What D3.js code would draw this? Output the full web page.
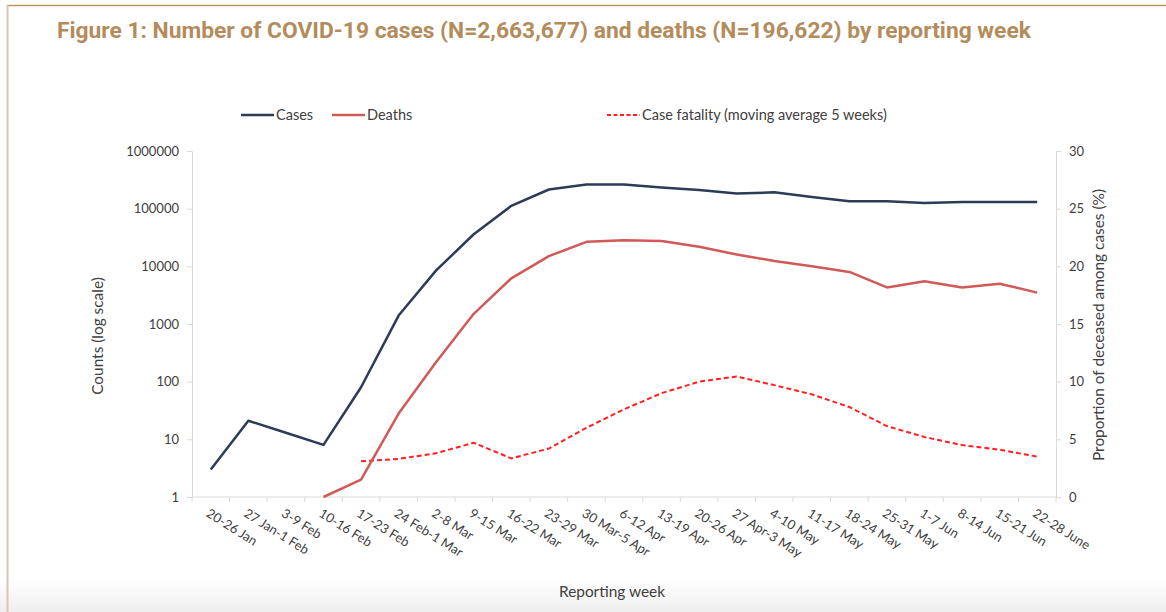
<!DOCTYPE html>
<html>
<head>
<meta charset="utf-8">
<script src="https://cdn.jsdelivr.net/npm/d3@7/dist/d3.min.js"></script>
<style>
  body { margin: 0; background: #fff; }
  svg { display: block; }
  .axis path, .axis line { stroke: #d9d9d9; }
  .axis text { fill: #404040; font-family: Lato, "Open Sans", sans-serif; font-size: 13px; }
</style>
</head>
<body>
<div id="chart"></div>
<script>
// reporting weeks
var weeks = ["20-26 Jan", "27 Jan-1 Feb", "3-9 Feb", "10-16 Feb", "17-23 Feb", "24 Feb-1 Mar",
    "2-8 Mar", "9-15 Mar", "16-22 Mar", "23-29 Mar", "30 Mar-5 Apr", "6-12 Apr", "13-19 Apr",
    "20-26 Apr", "27 Apr-3 May", "4-10 May", "11-17 May", "18-24 May", "25-31 May", "1-7 Jun",
    "8-14 Jun", "15-21 Jun", "22-28 June"];

// weekly counts (null = not plotted)
var cases = [3, 21, 13, 8, 80, 1400, 8500, 36000, 112000, 215000, 263000, 263000, 233000,
    210000, 183000, 192000, 160000, 135000, 135000, 126000, 131000, 131000, 130000];
var deaths = [null, null, null, 1, 2, 28, 220, 1500, 6200, 15000, 26600, 28400, 27600,
    21800, 16100, 12400, 10000, 8000, 4300, 5500, 4300, 5000, 3500];
// case fatality %, moving average 5 weeks
var fatality = [null, null, null, null, 3.1, 3.3, 3.8, 4.7, 3.35, 4.2, 6.0, 7.6, 9.0,
    10.0, 10.45, 9.7, 8.9, 7.8, 6.15, 5.2, 4.5, 4.1, 3.5];

var logTicks = [1, 10, 100, 1000, 10000, 100000, 1000000];
var pctTicks = [0, 5, 10, 15, 20, 25, 30];

var W = 1166, H = 612;
var margin = {top: 151, right: 110, bottom: 115, left: 192};
var width = W - margin.left - margin.right,
    height = H - margin.top - margin.bottom;

var svg = d3.select("#chart").append("svg")
    .attr("width", W)
    .attr("height", H);

// bottom grey fade + frame
var defs = svg.append("defs");
var grad = defs.append("linearGradient").attr("id", "fade")
    .attr("x1", 0).attr("y1", 0).attr("x2", 0).attr("y2", 1);
grad.append("stop").attr("offset", "0%").attr("stop-color", "#ffffff");
grad.append("stop").attr("offset", "100%").attr("stop-color", "#efefef");
svg.append("rect").attr("x", 0).attr("y", 580).attr("width", W).attr("height", 32)
    .attr("fill", "url(#fade)");

svg.append("line").attr("x1", 7).attr("x2", W).attr("y1", 5.5).attr("y2", 5.5)
    .attr("stroke", "#bb9467").attr("stroke-width", 1.5);
svg.append("line").attr("x1", 7.5).attr("x2", 7.5).attr("y1", 5).attr("y2", H)
    .attr("stroke", "#dcc6a8").attr("stroke-width", 2);

svg.append("text")
    .attr("x", 57).attr("y", 38)
    .style("font-family", "Roboto, sans-serif")
    .style("font-weight", "bold")
    .style("font-size", "22.8px")
    .style("fill", "#b48c5c")
    .text("Figure 1: Number of COVID-19 cases (N=2,663,677) and deaths (N=196,622) by reporting week");

var g = svg.append("g").attr("transform", "translate(" + margin.left + "," + margin.top + ")");

var x = d3.scaleBand().domain(weeks).range([0, width]);
var yL = d3.scaleLog().domain([1, 1000000]).range([height, 0]);
var yR = d3.scaleLinear().domain([0, 30]).range([height, 0]);

// x axis: ticks at band edges
var xAxis = g.append("g").attr("class", "axis")
    .attr("transform", "translate(0," + height + ")");
xAxis.append("line").attr("x1", 0).attr("x2", width);
xAxis.selectAll(".tk").data(weeks.concat([null])).enter().append("line")
    .attr("class", "tk")
    .attr("x1", function(d, i) { return i * x.step(); })
    .attr("x2", function(d, i) { return i * x.step(); })
    .attr("y1", 0).attr("y2", 5);
xAxis.selectAll(".lbl").data(weeks).enter().append("text")
    .attr("class", "lbl")
    .attr("transform", function(d) {
        return "translate(" + (x(d) + x.bandwidth() / 2 - 3) + ",15) rotate(32)";
    })
    .attr("dy", "0.35em")
    .style("text-anchor", "start")
    .text(function(d) { return d; });

g.append("g").attr("class", "axis")
    .call(d3.axisLeft(yL).tickValues(logTicks).tickFormat(d3.format("d")).tickSize(5).tickPadding(8));

g.append("g").attr("class", "axis")
    .attr("transform", "translate(" + width + ",0)")
    .call(d3.axisRight(yR).tickValues(pctTicks).tickSize(5).tickPadding(8));

g.selectAll(".axis .domain").attr("stroke", "#d9d9d9");

// axis titles
var titleStyle = function(s) {
    s.style("font-family", "Lato, 'Open Sans', sans-serif").style("font-size", "15.4px").style("fill", "#404040");
};
g.append("text")
    .attr("transform", "translate(-89," + (336 - margin.top) + ") rotate(-90)")
    .style("text-anchor", "middle").call(titleStyle)
    .text("Counts (log scale)");
g.append("text")
    .attr("transform", "translate(" + (width + 48) + "," + (325 - margin.top) + ") rotate(-90)")
    .style("text-anchor", "middle").call(titleStyle)
    .text("Proportion  of deceased among cases (%)");
g.append("text")
    .attr("x", 612 - margin.left).attr("y", 597 - margin.top)
    .style("text-anchor", "middle").call(titleStyle)
    .text("Reporting week");

// lines
var cx = function(i) { return x(weeks[i]) + x.bandwidth() / 2; };
var logLine = d3.line()
    .defined(function(d) { return d != null; })
    .x(function(d, i) { return cx(i); })
    .y(function(d) { return yL(d); });
var pctLine = d3.line()
    .defined(function(d) { return d != null; })
    .x(function(d, i) { return cx(i); })
    .y(function(d) { return yR(d); });

g.append("path").datum(fatality).attr("d", pctLine)
    .attr("fill", "none").attr("stroke", "#ff2020").attr("stroke-width", 2)
    .attr("stroke-dasharray", "5,3");
g.append("path").datum(deaths).attr("d", logLine)
    .attr("fill", "none").attr("stroke", "#d05a58").attr("stroke-width", 2.5)
    .attr("stroke-linejoin", "round");
g.append("path").datum(cases).attr("d", logLine)
    .attr("fill", "none").attr("stroke", "#2d3b57").attr("stroke-width", 2.5)
    .attr("stroke-linejoin", "round");

// legend
var legendItems = [
    {name: "Cases", color: "#2d3b57", dash: null, x: 241},
    {name: "Deaths", color: "#d05a58", dash: null, x: 332},
    {name: "Case fatality (moving average 5 weeks)", color: "#ff2020", dash: "4,2.5", x: 607}
];
var legend = svg.selectAll(".legend").data(legendItems).enter().append("g")
    .attr("class", "legend")
    .attr("transform", function(d) { return "translate(" + d.x + ",115)"; });
legend.append("line")
    .attr("x1", 0).attr("x2", 33)
    .attr("stroke", function(d) { return d.color; })
    .attr("stroke-width", function(d) { return d.dash ? 2 : 2.5; })
    .attr("stroke-dasharray", function(d) { return d.dash; });
legend.append("text")
    .attr("x", 35).attr("dy", "0.35em")
    .call(titleStyle)
    .style("font-size", "14.5px")
    .text(function(d) { return d.name; });
</script>
</body>
</html>
